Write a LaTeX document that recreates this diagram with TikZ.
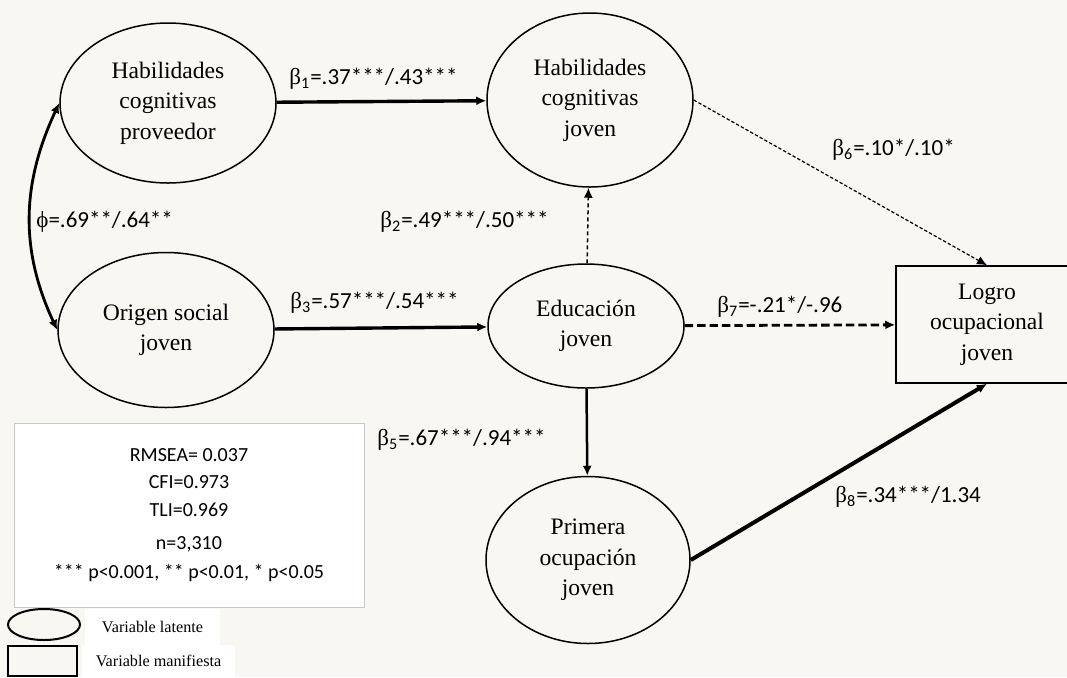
\documentclass[tikz,border=0pt]{standalone}
\usepackage{fontspec}
\setmainfont{Liberation Serif}
\newfontfamily\labfont{Carlito}
\newfontfamily\grkfont{Liberation Serif}
\usepackage{tikz}
\usetikzlibrary{shapes,
                arrows.meta,
                positioning}
\definecolor{paper}{HTML}{F8F7F2}
\definecolor{boxline}{HTML}{C8C8C8}
\tikzset{latent/.style =
   {ellipse,
    draw,
    line width=0.75pt,
    inner sep=0pt,
    align=center,
    font=\fontsize{11.8}{15.2}\selectfont}}
\tikzset{manifest/.style =
   {rectangle,
    draw,
    line width=0.75pt,
    inner sep=0pt,
    align=center,
    font=\fontsize{11.8}{15.2}\selectfont}}
\tikzset{coef/.style = {anchor=west, inner sep=0pt, font=\labfont\fontsize{11.5}{13}\selectfont}}
\tikzset{keytext/.style = {fill=white, inner sep=0pt, font=\fontsize{8.1}{10}\selectfont}}
\tikzset{>={Latex[length=5pt, width=4.5pt]}}
\tikzset{arrow/.style = {draw, ->}}
\newcommand{\bet}[1]{{\grkfont β}\textsubscript{#1}}

\begin{document}
\begin{tikzpicture}[x=0.5pt, y=-0.5pt]

    \fill [paper] (0,0) rectangle (1067,677);
    \useasboundingbox (0,0) rectangle (1067,677);
    \clip (0,0) rectangle (1067,677);

    \node [latent, minimum width=108pt, minimum height=80pt] (hcp) at (168,103)
     {Habilidades\\cognitivas\\proveedor};
    \node [latent, minimum width=103pt, minimum height=87pt] (hcj) at (590,100)
     {Habilidades\\cognitivas\\joven};
    \node [latent, minimum width=108pt, minimum height=77.5pt] (osj) at (166,330)
     {Origen social\\joven};
    \node [latent, minimum width=98pt, minimum height=62pt] (edu) at (586,326)
     {Educación\\joven};
    \node [latent, minimum width=102pt, minimum height=83.5pt] (pri) at (588,560)
     {Primera\\ocupación\\joven};
    \node [manifest, minimum width=91pt, minimum height=58.5pt] (logro) at (987,324.5)
     {Logro\\ocupacional\\joven};

    \draw [arrow, line width=1.7pt] (hcp) -- (hcj);
    \draw [arrow, line width=1.7pt] (osj) -- (edu);
    \draw [arrow, line width=0.75pt, dash pattern=on 2pt off 1.5pt] (edu) -- (hcj);
    \draw [arrow, line width=1.25pt] (edu) -- (pri);
    \draw [arrow, line width=1.4pt, dash pattern=on 4.2pt off 2pt] (edu) -- (logro);
    \draw [arrow, line width=0.6pt, dash pattern=on 1.7pt off 1pt] (hcj.east) -- (logro.north);
    \draw [arrow, line width=2pt] (pri.east) -- (logro.south);
    \draw [<->, line width=1.4pt] (hcp.west) to [out=245, in=115] (osj.west);

    \node [coef] (b1) at (289,79) {\bet{1}=.37***/.43***};
    \node [coef] (phi) at (36,222) {{\grkfont ϕ}=.69**/.64**};
    \node [coef] (b2) at (380,222) {\bet{2}=.49***/.50***};
    \node [coef] (b3) at (290,303) {\bet{3}=.57***/.54***};
    \node [coef] (b6) at (832,150) {\bet{6}=.10*/.10*};
    \node [coef] (b7) at (717,307) {\bet{7}=-.21*/-.96};
    \node [coef] (b5) at (377,440) {\bet{5}=.67***/.94***};
    \node [coef] (b8) at (835,497) {\bet{8}=.34***/1.34};

    \node [rectangle, draw=boxline, fill=white, line width=0.5pt,
           minimum width=175pt, minimum height=92pt, align=center,
           font=\labfont\fontsize{10}{13.8}\selectfont] (fitbox) at (189,515)
     {RMSEA= 0.037\\CFI=0.973\\TLI=0.969\\[2.7pt]n=3,310\\[0.7pt]*** p<0.001, ** p<0.01, * p<0.05};

    \node [ellipse, draw, line width=1pt, inner sep=0pt,
           minimum width=36pt, minimum height=15.5pt] (keylat) at (44,624.5) {};
    \node [rectangle, draw, line width=1pt, inner sep=0pt,
           minimum width=34.5pt, minimum height=15pt] (keyman) at (42.5,661) {};
    \node [keytext, minimum width=67.5pt, minimum height=18pt] (latlab) at (152.5,627)
     {Variable latente};
    \node [keytext, minimum width=76.5pt, minimum height=16pt] (manlab) at (158.5,661)
     {Variable manifiesta};

\end{tikzpicture}
\end{document}
